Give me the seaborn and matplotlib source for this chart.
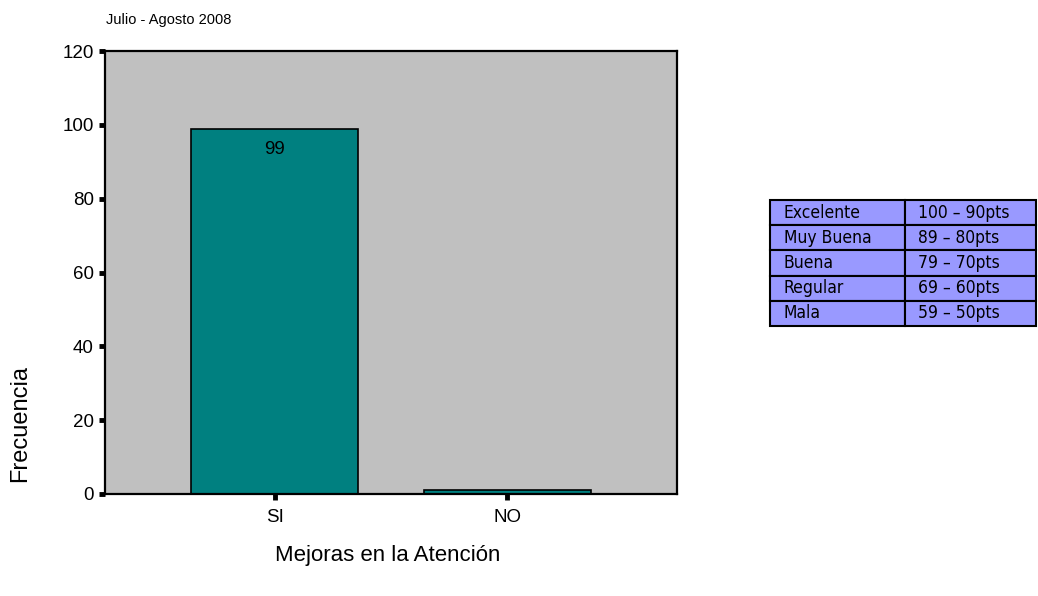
import matplotlib
matplotlib.use("Agg")
import matplotlib.pyplot as plt
import seaborn as sns
import pandas as pd

# Data
categorias = ["SI", "NO"]
frecuencias = [99, 1]
y_ticks = [0, 20, 40, 60, 80, 100, 120]
escala_nombres = ["Excelente", "Muy Buena", "Buena", "Regular", "Mala"]
escala_puntos = ["100 – 90pts", "89 – 80pts", "79 – 70pts", "69 – 60pts", "59 – 50pts"]

sns.set_style("white")
plt.rcParams["font.family"] = ["Liberation Sans", "DejaVu Sans"]
plt.rcParams["text.color"] = "black"
plt.rcParams["xtick.color"] = "black"
plt.rcParams["ytick.color"] = "black"

df = pd.DataFrame({"cat": categorias, "freq": frecuencias})

W, H = 1038, 596
fig = plt.figure(figsize=(W / 100, H / 100), dpi=100)
ax = fig.add_axes([105 / W, 1 - 494 / H, (677 - 105) / W, (494 - 51) / H])
ax.set_facecolor("#C0C0C0")

sns.barplot(data=df, x="cat", y="freq", color="#008080", saturation=1,
            width=0.72, edgecolor="black", linewidth=1.2, ax=ax)

ax.set_xlim(-0.73, 1.73)
ax.set_ylim(0, 120)
ax.set_yticks(y_ticks)
ax.tick_params(axis="both", bottom=True, left=True, direction="out", length=4,
               width=3.5, color="black", labelcolor="black", labelsize=13.5)
ax.tick_params(axis="x", pad=7)
ax.tick_params(axis="y", pad=4)
for s in ax.spines.values():
    s.set_color("black")
    s.set_linewidth(1.6)
ax.set_xlabel("")
ax.set_ylabel("")

# value label inside the tall bar
ax.text(0, frecuencias[0] - 3.5, str(frecuencias[0]), ha="center", va="top",
        fontsize=13.5, color="black")

fig.text(106 / W, 1 - 20 / H, "Julio - Agosto 2008", fontsize=10.5,
         ha="left", va="center")
fig.text(20 / W, 1 - 423 / H, "Frecuencia", rotation=90, fontsize=17,
         ha="center", va="center")
fig.text(388 / W, 1 - 556 / H, "Mejoras en la Atención", fontsize=16,
         ha="center", va="center")

# score scale table
tab_ax = fig.add_axes([770 / W, 1 - 326 / H, (1036 - 770) / W, (326 - 200) / H])
tab_ax.axis("off")
filas = [[n, p] for n, p in zip(escala_nombres, escala_puntos)]
tabla = tab_ax.table(cellText=filas, cellLoc="left", colWidths=[135 / 266, 131 / 266],
                     bbox=[0, 0, 1, 1])
tabla.auto_set_font_size(False)
for (r, c), cell in tabla.get_celld().items():
    cell.set_facecolor("#9999FF")
    cell.set_edgecolor("black")
    cell.set_linewidth(1.5)
    cell.PAD = 0.1
    txt = cell.get_text()
    txt.set_fontsize(12.5)
    txt.set_fontfamily(["DejaVu Sans", "Liberation Sans"])
    txt.set_fontstretch("condensed")

fig.savefig("out.png", dpi=100)
